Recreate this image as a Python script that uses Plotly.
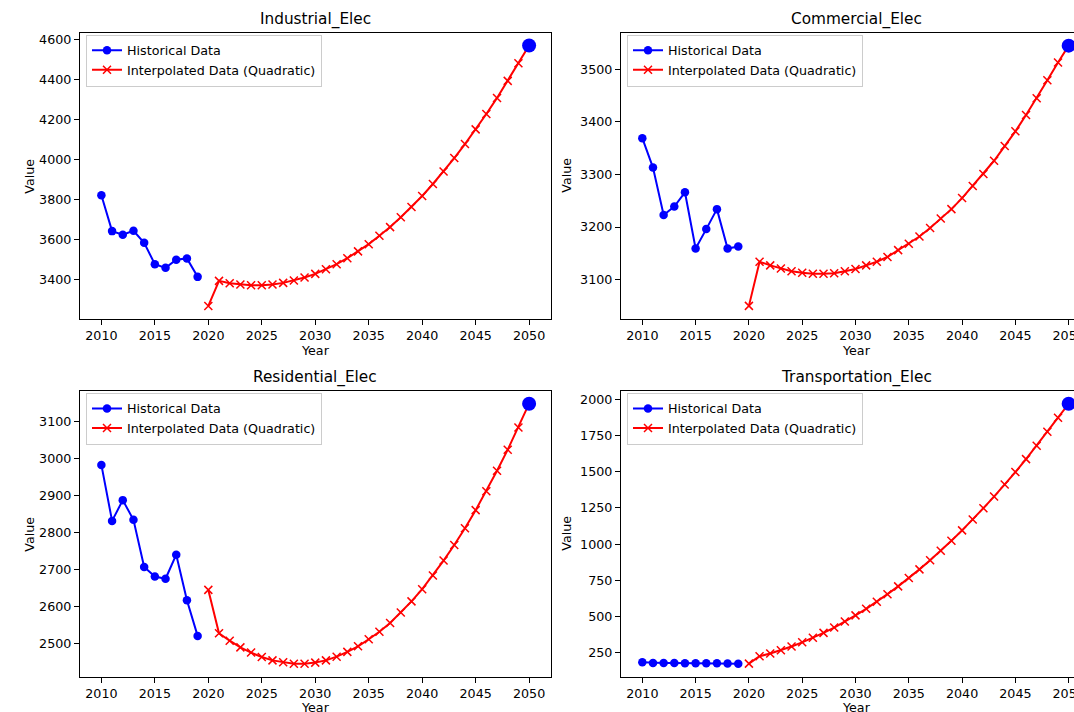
import plotly.graph_objects as go

# ---- data -------------------------------------------------------------
sectors = ["Industrial_Elec", "Commercial_Elec", "Residential_Elec", "Transportation_Elec"]

hist_years = [2010, 2011, 2012, 2013, 2014, 2015, 2016, 2017, 2018, 2019]
interp_years = [2020, 2021, 2022, 2023, 2024, 2025, 2026, 2027, 2028, 2029, 2030,
                2031, 2032, 2033, 2034, 2035, 2036, 2037, 2038, 2039, 2040,
                2041, 2042, 2043, 2044, 2045, 2046, 2047, 2048, 2049, 2050]
target_year = 2050

industrial_hist = [3822, 3643, 3625, 3645, 3585, 3478, 3460, 3500, 3507, 3415]
commercial_hist = [3369, 3313, 3223, 3239, 3266, 3159, 3196, 3234, 3159, 3163]
residential_hist = [2982, 2831, 2887, 2834, 2707, 2681, 2675, 2740, 2617, 2521]
transportation_hist = [185, 181, 180, 180, 179, 179, 178, 178, 177, 176]

industrial_interp = [3270, 3395, 3383, 3377, 3373, 3373, 3377, 3385, 3397, 3412, 3430,
                     3453, 3478, 3508, 3542, 3578, 3620, 3663, 3712, 3763, 3818,
                     3878, 3940, 4007, 4077, 4150, 4227, 4307, 4392, 4480, 4568]
commercial_interp = [3050, 3134, 3127, 3121, 3116, 3113, 3111, 3111, 3112, 3116, 3120,
                     3127, 3134, 3143, 3156, 3168, 3182, 3198, 3216, 3234, 3255,
                     3278, 3301, 3326, 3354, 3382, 3413, 3445, 3479, 3513, 3545]
residential_interp = [2645, 2528, 2508, 2490, 2476, 2464, 2455, 2450, 2446, 2446, 2449,
                      2455, 2465, 2478, 2493, 2512, 2532, 2556, 2584, 2614, 2647,
                      2684, 2724, 2766, 2811, 2860, 2911, 2966, 3023, 3083, 3147]
transportation_interp = [176, 227, 246, 269, 294, 323, 354, 388, 425, 466, 509,
                         554, 603, 655, 709, 766, 826, 889, 954, 1023, 1095,
                         1170, 1248, 1328, 1411, 1497, 1586, 1679, 1775, 1872, 1968]

targets = [4568, 3545, 3147, 1968]

hist_series = [industrial_hist, commercial_hist, residential_hist, transportation_hist]
interp_series = [industrial_interp, commercial_interp, residential_interp, transportation_interp]

# ---- layout geometry (pixels) ------------------------------------------
W, H = 1074, 712
FONT = "DejaVu Sans"
SMALL = 12.7
TITLE = 15.3


def px_x(x):
    return x / W


def px_y(y):
    return 1 - y / H


col_px = [(80, 550.5), (621, W)]
ylabel_offset = [50, 54]
row_px = [(32.5, 319), (390.7, 676.7)]
x_ranges = [[2008, 2052], [2008, 2050.5]]
y_ranges = [[3205, 4633], [3025, 3570], [2411, 3182], [86, 2058]]
y_dticks = [200, 100, 100, 250]

fig = go.Figure()
annotations = []
layout_axes = {}

for i, name in enumerate(sectors):
    r, c = divmod(i, 2)
    n = i + 1
    xa = "x" if n == 1 else f"x{n}"
    ya = "y" if n == 1 else f"y{n}"
    leg = "legend" if n == 1 else f"legend{n}"

    fig.add_trace(go.Scatter(
        x=hist_years, y=hist_series[i], mode="lines+markers", name="Historical Data",
        line=dict(color="#0000ff", width=2), marker=dict(symbol="circle", size=8.5, color="#0000ff"),
        xaxis=xa, yaxis=ya, legend=leg, showlegend=True))
    fig.add_trace(go.Scatter(
        x=interp_years, y=interp_series[i], mode="lines+markers",
        name="Interpolated Data (Quadratic)",
        line=dict(color="#ff0000", width=2),
        marker=dict(symbol="x-thin", size=8, color="#ff0000", line=dict(width=1.5, color="#ff0000")),
        xaxis=xa, yaxis=ya, legend=leg, showlegend=True))
    fig.add_trace(go.Scatter(
        x=[target_year], y=[targets[i]], mode="markers",
        marker=dict(symbol="circle", size=14, color="#0000ff"),
        xaxis=xa, yaxis=ya, showlegend=False))

    x0, x1 = col_px[c]
    y0, y1 = row_px[r]
    right_edge_cut = c == 1

    layout_axes[f"xaxis{n if n > 1 else ''}"] = dict(
        domain=[px_x(x0), px_x(x1)], range=x_ranges[c], anchor=ya, automargin=False,
        tickmode="array", tickvals=[2010, 2015, 2020, 2025, 2030, 2035, 2040, 2045, 2050],
        ticks="outside", ticklen=5, tickwidth=1.1, tickcolor="black",
        showline=True, linecolor="black", linewidth=1.1, mirror=True,
        showgrid=False, zeroline=False, ticklabeloverflow="allow",
        tickfont=dict(family=FONT, size=SMALL, color="black"))
    layout_axes[f"yaxis{n if n > 1 else ''}"] = dict(
        domain=[px_y(y1), px_y(y0)], range=y_ranges[i], anchor=xa, automargin=False,
        dtick=y_dticks[i], tick0=0,
        ticks="outside", ticklen=5, tickwidth=1.1, tickcolor="black",
        showline=True, linecolor="black", linewidth=1.1, mirror=not right_edge_cut,
        showgrid=False, zeroline=False,
        tickfont=dict(family=FONT, size=SMALL, color="black"))

    layout_axes[leg] = dict(
        x=px_x(x0 + 6), y=px_y(y0 + 2), xanchor="left", yanchor="top",
        bgcolor="rgba(255,255,255,0.8)", bordercolor="#cccccc", borderwidth=1,
        font=dict(family=FONT, size=SMALL, color="black"), itemwidth=30,
        tracegroupgap=0)

    cx = (x0 + (x0 + 470.5)) / 2
    annotations.append(dict(text=name, x=px_x(cx), y=px_y(y0 - 13.5), xref="paper", yref="paper",
                            showarrow=False, xanchor="center", yanchor="middle",
                            font=dict(family=FONT, size=TITLE, color="black")))
    annotations.append(dict(text="Year", x=px_x(cx), y=px_y(y1 + 31), xref="paper", yref="paper",
                            showarrow=False, xanchor="center", yanchor="middle",
                            font=dict(family=FONT, size=SMALL, color="black")))
    annotations.append(dict(text="Value", x=px_x(x0 - ylabel_offset[c]), y=px_y((y0 + y1) / 2),
                            xref="paper", yref="paper", showarrow=False,
                            xanchor="center", yanchor="middle", textangle=-90,
                            font=dict(family=FONT, size=SMALL, color="black")))

fig.update_layout(
    width=W, height=H, margin=dict(l=0, r=0, t=0, b=0, autoexpand=False),
    paper_bgcolor="white", plot_bgcolor="white",
    annotations=annotations, **layout_axes)

fig.write_html("out.html")
